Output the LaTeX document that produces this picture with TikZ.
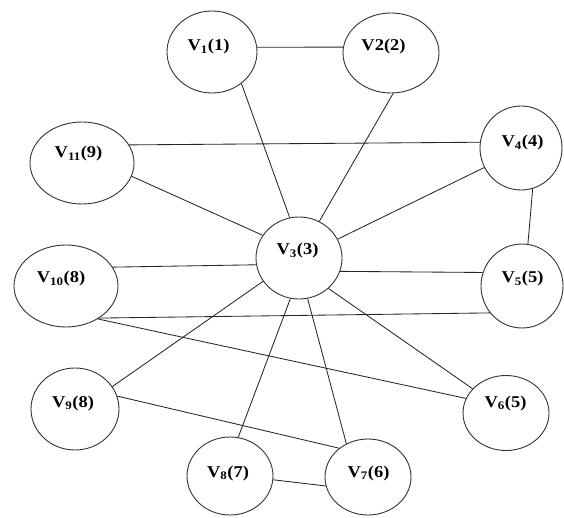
\documentclass[tikz,border=0pt]{standalone}
\usepackage{fontspec}
\setmainfont{Liberation Serif}[FakeStretch=1.12]
\usetikzlibrary{shapes.geometric}
\begin{document}
\begin{tikzpicture}[x=1pt,y=-1pt,
  vert/.style={ellipse, draw=black!80, line width=0.9pt, inner sep=0pt},
  lbl/.style={anchor=base, inner sep=0pt, font=\fontsize{16.5}{18}\selectfont\bfseries},
  edge/.style={draw=black!85, line width=0.85pt}]
\useasboundingbox (0,0) rectangle (564,518);
% vertices
\node[vert, minimum width=90, minimum height=82] (v1) at (212,52) {};
\node[vert, minimum width=96, minimum height=80] (v2) at (391,53) {};
\node[vert, minimum width=104, minimum height=82] (v11) at (82,163) {};
\node[vert, minimum width=82, minimum height=84] (v4) at (521,148) {};
\node[vert, minimum width=86, minimum height=82] (v3) at (299,258) {};
\node[vert, minimum width=104, minimum height=82] (v10) at (66,286) {};
\node[vert, minimum width=82, minimum height=84] (v5) at (522,286) {};
\node[vert, minimum width=88, minimum height=82] (v9) at (75,409) {};
\node[vert, minimum width=86, minimum height=75] (v6) at (506,413) {};
\node[vert, minimum width=86, minimum height=78] (v8) at (230,476) {};
\node[vert, minimum width=86, minimum height=76] (v7) at (368,477) {};
% labels
\node[lbl] (t1) at (208.5,51) {V\textsubscript{1}(1)};
\node[lbl] (t2) at (383.5,51) {V2(2)};
\node[lbl] (t11) at (78.5,158) {V\textsubscript{11}(9)};
\node[lbl] (t4) at (522.5,147) {V\textsubscript{4}(4)};
\node[lbl] (t3) at (297.5,255) {V\textsubscript{3}(3)};
\node[lbl] (t10) at (61,283) {V\textsubscript{10}(8)};
\node[lbl] (t5) at (522.5,283) {V\textsubscript{5}(5)};
\node[lbl] (t9) at (73,407) {V\textsubscript{9}(8)};
\node[lbl] (t6) at (505.5,407) {V\textsubscript{6}(5)};
\node[lbl] (t8) at (228,477) {V\textsubscript{8}(7)};
\node[lbl] (t7) at (368.5,477) {V\textsubscript{7}(6)};
% edges
\draw[edge] (v1.6) -- (v2.173);
\draw[edge] (v1.-47) -- (v3.103);
\draw[edge] (v2.273) -- (v3.61);
\draw[edge] (v11.21) -- (v4.172);
\draw[edge] (v11.-15) -- (v3.148);
\draw[edge] (v4.208) -- (v3.26);
\draw[edge] (v4.286) -- (v5.82);
\draw[edge] (v10.22) -- (v3.189);
\draw[edge] (v3.342) -- (v5.161);
\draw[edge] (v10.-44) -- (v5.220);
\draw[edge] (v10.-46) -- (v6.160);
\draw[edge] (v3.314) -- (v6.144);
\draw[edge] (v3.213) -- (v9.31);
\draw[edge] (v3.258) -- (v8.78);
\draw[edge] (v3.282) -- (v7.123);
\draw[edge] (v9.17) -- (v7.135);
\draw[edge] (v8.-5) -- (v7.192);
\end{tikzpicture}
\end{document}
